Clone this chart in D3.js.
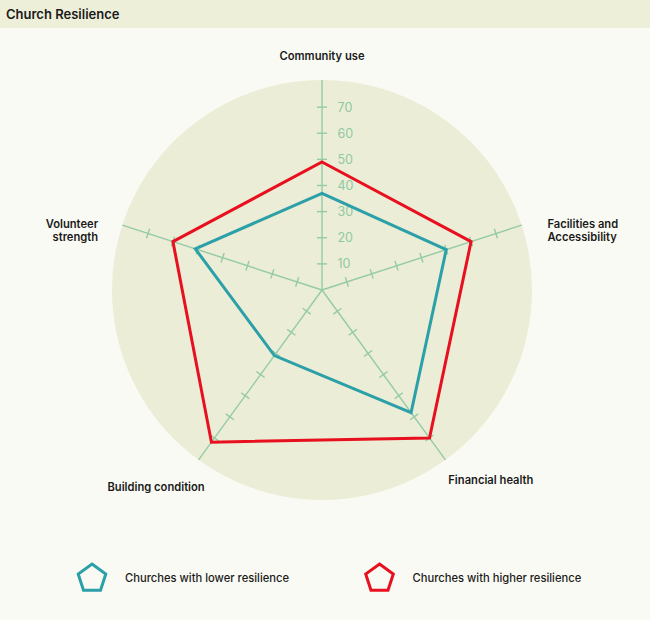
<!DOCTYPE html>
<html>
<head>
<meta charset="utf-8">
<script src="https://cdn.jsdelivr.net/npm/d3@7"></script>
<style>
  html, body { margin: 0; padding: 0; background: #fafaf4; }
  svg { display: block; font-family: Inter, "Noto Sans", sans-serif; }
</style>
</head>
<body>
<svg id="chart" width="650" height="620"></svg>
<script>
const title = "Church Resilience";
const axes = ["Community use", "Facilities and\nAccessibility", "Financial health", "Building condition", "Volunteer\nstrength"];
const lowerResilience = [37, 50, 58, 31, 51];
const higherResilience = [49, 60, 70, 72, 60];
const tickValues = [10, 20, 30, 40, 50, 60, 70];
const seriesNames = ["Churches with lower resilience", "Churches with higher resilience"];
const seriesColors = ["#2ba0a8", "#e8101f"];
// label layout: anchor and nudges relative to the label ring
const labelLayout = [
  {anchor: "middle", dx: 0, dy: 7},
  {anchor: "start", dx: 0, dy: 11},
  {anchor: "start", dx: -13, dy: 2.5},
  {anchor: "end", dx: 22, dy: 9},
  {anchor: "end", dx: 1.5, dy: 11}
];

const svg = d3.select("#chart");
const W = 650, H = 620;
const cx = 322, cy = 290;
const R = 209;

// header band
svg.append("rect").attr("x", 0).attr("y", 0).attr("width", W).attr("height", 28).attr("fill", "#eeefd9");
svg.append("text").attr("x", 6).attr("y", 18.5).attr("font-size", 13).attr("font-weight", 600)
  .attr("fill", "#1a1a1a").text(title);

const r = d3.scaleLinear().domain([0, 80]).range([0, R]);
const angle = d3.scalePoint().domain(d3.range(axes.length)).range([0, 2 * Math.PI * (axes.length - 1) / axes.length]);

const g = svg.append("g").attr("transform", `translate(${cx},${cy})`);

g.append("circle").attr("r", r(80) + 1).attr("fill", "#ecedd6");

const pt = (i, v) => {
  const a = angle(i);
  return [Math.sin(a) * r(v), -Math.cos(a) * r(v)];
};

const axisColor = "#94cba6";
// axes
axes.forEach((name, i) => {
  const a = angle(i);
  const axG = g.append("g").attr("transform", `rotate(${a * 180 / Math.PI})`);
  axG.append("line").attr("x1", 0).attr("y1", 0).attr("x2", 0).attr("y2", -r(80) - 1)
    .attr("stroke", axisColor).attr("stroke-width", 1.4);
  axG.selectAll("line.tick").data(tickValues).enter().append("line")
    .attr("class", "tick")
    .attr("x1", -5).attr("x2", 5)
    .attr("y1", d => -r(d)).attr("y2", d => -r(d))
    .attr("stroke", axisColor).attr("stroke-width", 1.4);
});

// tick labels on first axis
g.selectAll("text.tl").data(tickValues).enter().append("text")
  .attr("class", "tl")
  .attr("x", 15.5).attr("y", d => -r(d)).attr("dy", "0.36em")
  .attr("font-size", 12.5).attr("fill", "#8fcaa3")
  .text(d => d);

// series
const line = d3.line().curve(d3.curveLinearClosed);
[lowerResilience, higherResilience].forEach((vals, s) => {
  g.append("path")
    .attr("d", line(vals.map((v, i) => pt(i, v))))
    .attr("fill", "none")
    .attr("stroke", seriesColors[s])
    .attr("stroke-width", 3)
    .attr("stroke-linejoin", "miter");
});

// axis labels
const labelR = 237;
axes.forEach((name, i) => {
  const a = angle(i);
  const x = Math.sin(a) * labelR + labelLayout[i].dx;
  const y = -Math.cos(a) * labelR + labelLayout[i].dy;
  const t = g.append("text").attr("x", x).attr("y", y)
    .attr("text-anchor", labelLayout[i].anchor)
    .attr("font-size", 11.2).attr("font-weight", 600).attr("fill", "#1a1a1a");
  name.split("\n").forEach((ln, k) => {
    t.append("tspan").attr("x", x).attr("dy", k === 0 ? 0 : 13.2).text(ln);
  });
});

// legend
const legendX = [92, 379.5];
const legendY = 577.5;
const pent = d3.range(5).map(k => {
  const a = k * 2 * Math.PI / 5;
  return [Math.sin(a) * 14.5, -Math.cos(a) * 14.5];
});
seriesNames.forEach((name, s) => {
  const lg = svg.append("g").attr("transform", `translate(${legendX[s]},${legendY})`);
  lg.append("path").attr("d", line(pent)).attr("fill", "none")
    .attr("stroke", seriesColors[s]).attr("stroke-width", 3).attr("transform", "translate(0,1)");
  lg.append("text").attr("x", 33).attr("y", 0).attr("dy", "0.36em")
    .attr("font-size", 11.2).attr("font-weight", 500).attr("fill", "#1a1a1a").text(name);
});
</script>
</body>
</html>
